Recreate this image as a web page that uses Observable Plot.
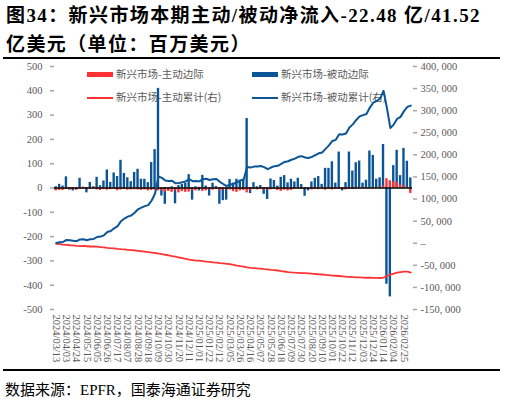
<!DOCTYPE html>
<html><head><meta charset="utf-8">
<script src="https://cdn.jsdelivr.net/npm/d3@7"></script>
<script src="https://cdn.jsdelivr.net/npm/@observablehq/plot@0.6"></script>
<style>
html,body{margin:0;padding:0;background:#fff;}
body{width:508px;height:403px;overflow:hidden;position:relative;font-family:"Liberation Serif","Noto Sans CJK SC",serif;}
#title{position:absolute;left:6px;top:1px;font-size:19px;font-weight:bold;line-height:29px;letter-spacing:1.4px;color:#000;white-space:nowrap;}
#rule1{position:absolute;left:3px;top:57px;width:497px;height:2px;background:#000;}
#rule2{position:absolute;left:3px;top:369px;width:497px;height:2px;background:#000;}
#chart{position:absolute;left:0;top:58px;z-index:2;}
#legend{position:absolute;left:0;top:0;z-index:1;font-family:"Noto Sans CJK SC",sans-serif;font-size:10.5px;color:#595959;}
.li{position:absolute;white-space:nowrap;line-height:12px;}
.sw{position:absolute;}
#source{position:absolute;left:5px;top:378px;font-size:15px;color:#000;font-family:"Liberation Serif","Noto Sans CJK SC",serif;white-space:nowrap;}
</style>
</head><body>
<div id="title">图34：新兴市场本期主动/被动净流入-22.48 亿/41.52<br>亿美元（单位：百万美元）</div>
<div id="rule1"></div>
<div id="legend"></div>
<div id="chart"></div>
<div id="rule2"></div>
<div id="source">数据来源：EPFR，国泰海通证券研究</div>
<script>
// ---- data ----
const seriesNames = ["新兴市场-主动边际", "新兴市场-被动边际", "新兴市场-主动累计(右)", "新兴市场-被动累计(右)"];
const startDate = "2024-03-13"; // weekly categories, 105 weeks
const tickLabels = ["2024/03/13","2024/04/03","2024/04/24","2024/05/15","2024/06/05","2024/06/26","2024/07/17","2024/08/07","2024/08/28","2024/09/18","2024/10/09","2024/10/30","2024/11/20","2024/12/11","2025/01/01","2025/01/22","2025/02/12","2025/03/05","2025/03/26","2025/04/16","2025/05/07","2025/05/28","2025/06/18","2025/07/09","2025/07/30","2025/08/20","2025/09/10","2025/10/01","2025/10/22","2025/11/12","2025/12/03","2025/12/24","2026/01/14","2026/02/04","2026/02/25"];
const leftTicks = [-500,-400,-300,-200,-100,0,100,200,300,400,500];
const rightTicks = [-150000,-100000,-50000,0,50000,100000,150000,200000,250000,300000,350000,400000];

// 被动边际 (亿美元)
const passive = [
5,15,8,46,-8,-12,-8,40,3,-20,
23,5,44,9,29,74,23,62,47,114,
60,42,26,64,77,36,36,22,105,158,
410,-33,-67,-10,5,-65,10,15,20,55,
-50,5,-12,52,8,-33,20,6,-67,-52,
-50,35,20,36,32,34,286,-23,22,5,
10,-26,-47,37,31,8,44,51,21,36,
25,40,14,-34,-12,25,40,47,15,81,
81,108,20,148,-12,22,148,70,104,111,
20,32,152,134,36,42,179,-396,-448,92,
155,51,163,110,41.52];
// 主动边际 (亿美元)
const active = [
-12,-10,-10,-6,-8,-4,-9,-5,3,-7,
-6,4,-8,-10,-6,-9,-7,-5,-11,-8,
-6,-9,-8,-7,-8,-10,-8,-12,-10,-9,
-12,-12,-16,-14,-18,-10,-20,-15,-18,-17,
-10,-12,3,-14,-12,-6,-9,-5,-12,-8,
-7,-8,-15,-18,-12,-10,-20,-10,-5,-8,
-6,-9,-7,-8,-6,-10,-14,-9,-12,-10,
-5,-3,-6,-2,-4,-8,-6,-7,-5,-9,
-6,-8,-5,-6,-6,-8,-5,-6,-5,-3,
-2,-4,2,-3,-2,-3,8,38,30,25,
22,12,8,3,-22.48];
// 被动累计 (百万美元, 右轴)
const passiveCum = [
500,2000,2800,7400,6600,5400,4600,8600,8900,6900,
9200,9700,14100,15000,17900,25300,27600,33800,38500,49900,
55900,60100,62700,69100,76800,80400,84000,86200,96700,112500,
151000,148000,142000,141000,141500,135500,136500,138000,140000,145000,
140500,141000,140000,145000,146000,143000,145000,145500,139000,134000,
129500,132500,134500,138000,141500,145000,172500,171200,173400,173900,
174900,172300,167600,171300,174400,175200,179600,184000,185500,189000,
191500,195500,197000,194000,193000,195500,199500,203500,205500,213500,
221500,231500,234000,246500,246000,248500,262000,269000,279000,287000,
290000,292500,307000,318000,322000,327500,345000,306000,261000,268500,
281500,286000,299000,308500,311500];
// 主动累计 (百万美元, 右轴)
const activeCum = [
-1200,-2200,-3200,-3800,-4600,-5000,-5900,-6400,-6100,-6800,
-7400,-7000,-7800,-8800,-9400,-10300,-11000,-11500,-12600,-13400,
-14000,-14900,-15700,-16400,-17200,-18200,-19000,-20200,-21200,-22100,
-23300,-24500,-26100,-27500,-29300,-30300,-32300,-33800,-35600,-37300,
-38300,-39500,-39200,-40600,-41800,-42400,-43300,-43800,-45000,-45800,
-46500,-47300,-48800,-50600,-51800,-52800,-54800,-55800,-56300,-57100,
-57700,-58600,-59300,-60100,-60700,-61700,-63100,-64000,-65200,-66200,
-66700,-67000,-67600,-67800,-68200,-69000,-69600,-70300,-70800,-71700,
-72300,-73100,-73600,-74200,-74800,-75600,-76100,-76700,-77200,-77500,
-77700,-78100,-77900,-78200,-78400,-78700,-77900,-74100,-71100,-68600,
-66400,-65200,-64400,-64100,-66300];

// ---- build ----
const fmtDate = d3.utcFormat("%Y/%m/%d");
const t0 = new Date(startDate + "T00:00:00Z");
const dates = passive.map((_, i) => fmtDate(d3.utcDay.offset(t0, 7 * i)));
const rows = dates.map((d, i) => ({date: d, passive: passive[i], active: active[i], pCum: passiveCum[i], aCum: activeCum[i]}));

const R0 = -150000, R1 = 400000;
const toLeft = v => -500 + (v - R0) * 1000 / (R1 - R0);
const fromLeft = y => R0 + (y + 500) * (R1 - R0) / 1000;
const fmtRight = y => {
  const v = Math.round(fromLeft(y) / 1000) * 1000;
  if (v === 0) return "–";
  return (v < 0 ? "-" : "") + d3.format(",")(Math.abs(v)).replace(/,/g, ", ");
};

const BLUE = "#0B5596", RED = "#FF3333", AXIS = "#A6A6A6", TXT = "#595959";

const chart = Plot.plot({
  width: 508, height: 310,
  marginTop: 8, marginBottom: 59, marginLeft: 54, marginRight: 96,
  style: {background: "transparent", fontFamily: "'Liberation Serif', serif", fontSize: "10.5px", color: TXT},
  x: {type: "band", domain: dates, paddingInner: 0.3, paddingOuter: 0.15, axis: null},
  y: {domain: [-500, 500], axis: null},
  marks: [
    Plot.barY(rows, {x: "date", y: "passive", fill: BLUE}),
    Plot.barY(rows, {x: "date", y: "active", fill: RED}),
    Plot.ruleY([0], {stroke: "#000", strokeWidth: 1.3}),
    Plot.lineY(rows, {x: "date", y: d => toLeft(d.aCum), stroke: RED, strokeWidth: 1.8}),
    Plot.lineY(rows, {x: "date", y: d => toLeft(d.pCum), stroke: BLUE, strokeWidth: 2}),
    Plot.axisY({anchor: "left", label: null, ticks: leftTicks, tickFormat: d => String(d), tickSize: 4, tickPadding: 8, stroke: AXIS, fill: TXT, line: true, strokeWidth: 1.5}),
    Plot.axisY({anchor: "right", label: null, ticks: rightTicks.map(toLeft), tickFormat: fmtRight, tickSize: 4, tickPadding: 4, stroke: AXIS, fill: TXT, line: true, strokeWidth: 1.5}),
    Plot.axisX({label: null, ticks: tickLabels, tickRotate: 90, tickSize: 0, tickPadding: 5, fill: TXT})
  ]
});
document.getElementById("chart").appendChild(chart);

// legend (HTML, behind the transparent plot)
const lg = document.getElementById("legend");
const items = [
  {name: seriesNames[0], color: RED, h: 5, x: 87, y: 74.5},
  {name: seriesNames[1], color: BLUE, h: 5, x: 252, y: 74.5},
  {name: seriesNames[2], color: RED, h: 2, x: 87, y: 97.5},
  {name: seriesNames[3], color: BLUE, h: 2, x: 252, y: 97.5}
];
for (const it of items) {
  const s = document.createElement("div");
  s.className = "sw";
  s.style.cssText = `left:${it.x}px;top:${it.y - it.h / 2}px;width:26px;height:${it.h}px;background:${it.color}`;
  lg.appendChild(s);
  const t = document.createElement("div");
  t.className = "li";
  t.style.cssText = `left:${it.x + 29}px;top:${it.y - 6.5}px`;
  t.textContent = it.name;
  lg.appendChild(t);
}
</script>
</body></html>
